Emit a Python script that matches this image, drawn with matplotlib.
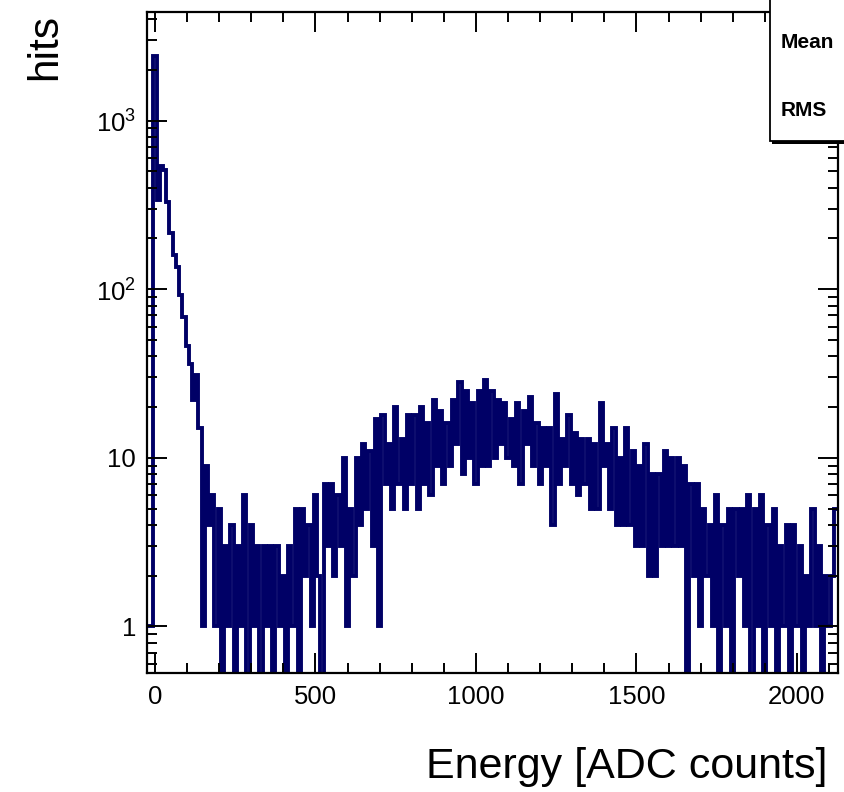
import numpy as np
import matplotlib.pyplot as plt
from matplotlib.ticker import MultipleLocator, LogLocator, NullFormatter, FixedLocator, FixedFormatter
from matplotlib.patches import Rectangle

plt.rcParams['font.family'] = ['Liberation Sans', 'DejaVu Sans']
plt.rcParams['mathtext.fontset'] = 'custom'
plt.rcParams['mathtext.rm'] = 'Liberation Sans'

# histogram binning (ADC counts)
bin_lo = -25
bin_width = 10

# hits per bin (bin centres -20, -10, 0, 10, ... 2120)
counts = [
    1, 1, 2400, 340, 540, 510, 330, 215, 160, 135,          # -20 .. 70
    92, 68, 46, 36, 22, 31, 15, 1, 9, 4,                    # 80 .. 170
    6, 1, 5, 0, 3, 1, 4, 0, 3, 1,                           # 180 .. 270
    6, 0, 4, 1, 3, 0, 3, 1, 3, 0,                           # 280 .. 370
    3, 1, 2, 0, 3, 1, 5, 0, 5, 2,                           # 380 .. 470
    4, 1, 6, 2, 0, 7, 3, 7, 2, 6,                           # 480 .. 570
    3, 10, 1, 5, 2, 10, 4, 12, 5, 11,                       # 580 .. 670
    3, 17, 1, 18, 7, 12, 5, 20, 7, 13,                      # 680 .. 770
    5, 18, 7, 18, 5, 20, 7, 16, 6, 22,                      # 780 .. 870
    9, 19, 7, 16, 9, 22, 12, 28, 8, 25,                     # 880 .. 970
    10, 21, 7, 25, 9, 29, 9, 25, 10, 22,                    # 980 .. 1070
    12, 21, 10, 17, 9, 21, 7, 19, 12, 23,                   # 1080 .. 1170
    9, 16, 7, 15, 9, 15, 4, 24, 7, 13,                      # 1180 .. 1270
    9, 18, 7, 14, 6, 13, 7, 13, 5, 12,                      # 1280 .. 1370
    5, 21, 9, 12, 5, 15, 4, 10, 4, 15,                      # 1380 .. 1470
    4, 11, 3, 9, 3, 12, 2, 8, 2, 8,                         # 1480 .. 1570
    3, 11, 3, 10, 3, 10, 3, 9, 0, 7,                        # 1580 .. 1670
    2, 7, 1, 5, 2, 4, 1, 6, 0, 4,                           # 1680 .. 1770
    1, 5, 0, 5, 2, 5, 1, 6, 0, 5,                           # 1780 .. 1870
    1, 6, 0, 4, 1, 5, 0, 3, 1, 4,                           # 1880 .. 1970
    0, 4, 1, 3, 0, 2, 1, 5, 1, 3,                           # 1980 .. 2070
    0, 2, 1, 2, 5,                                          # 2080 .. 2120
]

counts = np.array(counts, dtype=float)
edges = bin_lo + bin_width * np.arange(len(counts) + 1)

fig = plt.figure(figsize=(8.45, 7.92), dpi=100)
W, H = 845, 792
ax = fig.add_axes([147 / W, 1 - 673 / H, (838 - 147) / W, (673 - 12) / H])

# empty bins drop below the frame like in ROOT
ax.stairs(np.clip(counts, 1e-2, None), edges, color='#000066', linewidth=2.8, baseline=None)

ax.set_yscale('log')
ax.set_xlim(-25, 2128)
ax.set_ylim(0.53, 4400)

ax.xaxis.set_major_locator(MultipleLocator(500))
ax.xaxis.set_minor_locator(MultipleLocator(100))
ax.yaxis.set_major_locator(FixedLocator([1, 10, 100, 1000]))
ax.yaxis.set_major_formatter(FixedFormatter(['1', '10', r'$10^{2}$', r'$10^{3}$']))
ax.yaxis.set_minor_locator(LogLocator(base=10, subs=np.arange(2, 10)))
ax.yaxis.set_minor_formatter(NullFormatter())

ax.tick_params(which='both', direction='in', top=True, right=True, width=1.4, color='black')
ax.tick_params(which='major', length=14.5)
ax.tick_params(which='minor', length=7.5)
ax.tick_params(axis='x', labelsize=18.5, pad=9)
ax.tick_params(axis='y', labelsize=18.5, pad=8)
for s in ax.spines.values():
    s.set_linewidth(1.6)

fig.text(828 / W, 1 - 767 / H, 'Energy [ADC counts]', ha='right', va='center', fontsize=31)
fig.text(45 / W, 1 - 14 / H, 'hits', rotation=90, ha='center', va='top', fontsize=30.5)

# stats box, cut off at the right edge
fig.add_artist(Rectangle((772 / W, 1 - 144 / H), 100 / W, 160 / H, transform=fig.transFigure,
                         facecolor='black', edgecolor='none', zorder=5))
fig.add_artist(Rectangle((770 / W, 1 - 141 / H), 100 / W, 160 / H, transform=fig.transFigure,
                         facecolor='white', edgecolor='black', linewidth=1.3, zorder=6))
fig.text(781 / W, 1 - 43 / H, 'Mean', fontsize=15, fontweight='bold', va='center', zorder=7)
fig.text(781 / W, 1 - 110 / H, 'RMS', fontsize=15, fontweight='bold', va='center', zorder=7)

fig.savefig('out.png', dpi=100)
